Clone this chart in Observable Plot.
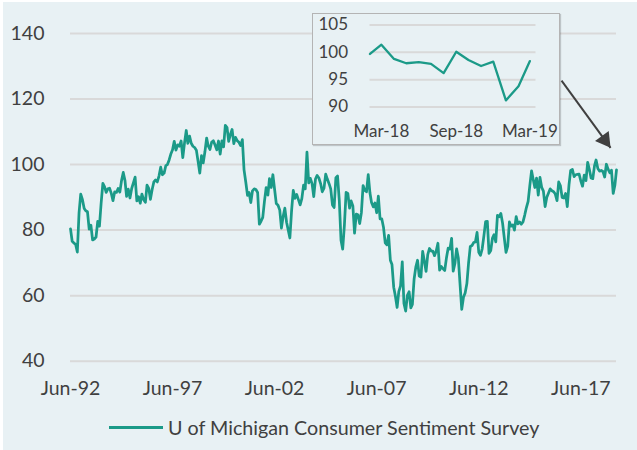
<!DOCTYPE html>
<html><head><meta charset="utf-8">
<script src="https://cdn.jsdelivr.net/npm/d3@7"></script>
<script src="https://cdn.jsdelivr.net/npm/@observablehq/plot@0.6"></script>
<style>
html,body{margin:0;padding:0;background:#fff;overflow:hidden;}
#wrap{position:relative;width:637px;height:450px;overflow:hidden;font-family:Lato,sans-serif;color:#404040;}
#bg{position:absolute;left:3px;top:2px;right:0;bottom:0;background:#e8f1f4;}
#main{position:absolute;left:0;top:0;}
#inset{position:absolute;left:312px;top:13px;}
#inset svg{border:1.5px solid #b4b4b4;box-shadow:1px 1px 1px rgba(0,0,0,0.18);display:block;}
#legend{position:absolute;left:109px;top:414px;height:26px;display:flex;align-items:center;font-size:19.7px;white-space:nowrap;}
#legend .sw{display:inline-block;width:54px;height:3px;background:#1b9a88;margin-right:5px;}
</style>
</head><body>
<div id="wrap"><div id="bg"></div><div id="main"></div><div id="inset"></div>
<div id="legend"><span class="sw"></span><span>U of Michigan Consumer Sentiment Survey</span></div></div>
<script>
// University of Michigan consumer sentiment, monthly from Jun-1992 to Mar-2019
const firstMonth = [1992, 5]; // Jun-1992 (UTC year, month index)
const sentiment1992_1996 = [
  80.4, 76.6, 76.1, 75.6, 73.3, 85.3, 91.0,
  89.3, 86.6, 85.9, 85.6, 80.3, 81.5, 77.0, 77.3, 77.9, 82.7, 81.2, 88.2,
  94.3, 93.2, 91.5, 92.6, 92.8, 91.2, 89.0, 91.7, 91.5, 92.7, 91.6, 95.1,
  97.6, 95.1, 90.3, 92.5, 89.8, 92.7, 94.4, 96.2, 88.9, 90.2, 88.2, 91.0,
  89.3, 88.5, 93.7, 92.7, 89.4, 92.4, 94.7, 95.3, 94.7, 96.5, 99.2, 96.9
];
const sentiment1997_2001 = [
  97.4, 99.7, 100.0, 101.4, 103.2, 104.5, 107.1, 104.4, 106.0, 105.6, 107.2, 102.1,
  106.6, 110.4, 106.5, 108.7, 106.5, 105.6, 105.2, 104.4, 100.9, 97.4, 102.7, 100.5,
  103.9, 108.1, 105.7, 104.6, 106.8, 107.3, 106.0, 104.5, 107.2, 103.2, 107.2, 105.4,
  112.0, 111.3, 107.1, 109.2, 110.7, 106.4, 108.3, 107.3, 106.8, 105.8, 107.6, 98.4,
  94.7, 90.6, 91.5, 88.4, 92.0, 92.6, 92.4, 91.5, 81.8, 82.7, 83.9, 88.8
];
const sentiment2002_2006 = [
  93.0, 90.7, 95.7, 93.0, 96.9, 92.4, 88.1, 87.6, 86.1, 80.6, 84.2, 86.7,
  82.4, 79.9, 77.6, 86.0, 92.1, 89.7, 90.9, 89.3, 87.7, 89.6, 93.7, 92.6,
  103.8, 94.4, 95.8, 94.2, 90.2, 95.6, 96.7, 95.9, 94.2, 91.7, 92.8, 97.1,
  95.5, 94.1, 92.6, 87.7, 86.9, 96.0, 96.5, 89.1, 76.9, 74.2, 81.6, 91.5,
  91.2, 86.7, 88.9, 87.4, 79.1, 84.9, 84.7, 82.0, 85.4, 93.6, 92.1, 91.7
];
const sentiment2007_2011 = [
  96.9, 91.3, 88.4, 87.1, 88.3, 85.3, 90.4, 83.4, 83.4, 80.9, 76.1, 75.5,
  78.4, 70.8, 69.5, 62.6, 59.8, 56.4, 61.2, 63.0, 70.3, 57.6, 55.3, 60.1,
  61.2, 56.3, 57.3, 65.1, 68.7, 70.8, 66.0, 65.7, 73.5, 70.6, 67.4, 72.5,
  74.4, 73.6, 73.6, 72.2, 73.6, 76.0, 67.8, 68.9, 68.2, 67.7, 71.6, 74.5,
  74.2, 77.5, 67.5, 69.8, 74.3, 71.5, 63.7, 55.8, 59.5, 60.8, 63.7, 69.9
];
const sentiment2012_2016 = [
  75.0, 75.3, 76.2, 76.4, 79.3, 73.2, 72.3, 74.3, 78.3, 82.6, 82.7, 72.9,
  73.8, 77.6, 78.6, 76.4, 84.5, 84.1, 85.1, 82.1, 77.5, 73.2, 75.1, 82.5,
  81.2, 81.6, 80.0, 84.1, 81.9, 82.5, 81.8, 82.5, 84.6, 86.9, 88.8, 93.6,
  98.1, 95.4, 93.0, 95.9, 90.7, 96.1, 93.1, 91.9, 87.2, 90.0, 91.3, 92.6,
  92.0, 91.7, 91.0, 89.0, 94.7, 93.5, 90.0, 89.8, 91.2, 87.2, 93.8, 98.2
];
const sentiment2017_2019 = [
  98.5, 96.3, 96.9, 97.0, 97.1, 95.0, 93.4, 96.8, 95.1, 100.7, 98.5, 95.9,
  95.7, 99.7, 101.4, 98.8, 98.0, 98.2, 97.9, 96.2, 100.1, 98.6, 97.5, 98.3,
  91.2, 93.8, 98.4
];
const mainYTicks = [40, 60, 80, 100, 120, 140];
const mainXTickYears = [1992, 1997, 2002, 2007, 2012, 2017]; // June of each
const insetYTicks = [90, 95, 100, 105];
const insetXTickMonths = [[2018, 2], [2018, 8], [2019, 2]]; // Mar-18, Sep-18, Mar-19
const insetStart = [2018, 1]; // Feb-18
// arrow annotation (from inset box toward the latest reading)
const arrowFrom = {date: [2016, 5, 21], value: 125.6};
const arrowTo = {date: [2018, 10, 15], value: 105.1};

const values = [].concat(sentiment1992_1996, sentiment1997_2001, sentiment2002_2006,
  sentiment2007_2011, sentiment2012_2016, sentiment2017_2019);
const start = new Date(Date.UTC(firstMonth[0], firstMonth[1], 1));
const series = values.map((v, i) => ({date: d3.utcMonth.offset(start, i), value: v}));
const lastDate = series[series.length - 1].date;
const insetStartDate = new Date(Date.UTC(insetStart[0], insetStart[1], 1));
const insetSeries = series.filter(d => d.date >= insetStartDate);
const fmt = d3.utcFormat("%b-%y");
const teal = "#1b9a88";
const ink = "#404040";
const arrowData = [{
  x1: new Date(Date.UTC(...arrowFrom.date)), y1: arrowFrom.value,
  x2: new Date(Date.UTC(...arrowTo.date)), y2: arrowTo.value
}];

const main = Plot.plot({
  width: 637, height: 405,
  marginLeft: 70, marginRight: 21, marginTop: 33, marginBottom: 44.3,
  style: {background: "transparent", color: ink, fontFamily: "Lato, sans-serif", fontSize: "19.5px", overflow: "visible"},
  x: {type: "utc", domain: [series[0].date, lastDate], label: null},
  y: {domain: [40, 140], label: null},
  marks: [
    Plot.gridY(mainYTicks, {stroke: "#d9d9d9", strokeOpacity: 1, strokeWidth: 2}),
    Plot.axisY(mainYTicks, {tickSize: 0, tickPadding: 26, fontSize: 19.5, label: null}),
    Plot.axisX(mainXTickYears.map(y => new Date(Date.UTC(y, 5, 1))),
      {tickSize: 0, tickPadding: 20, fontSize: 19.5, tickFormat: fmt, label: null}),
    Plot.line(series, {x: "date", y: "value", stroke: teal, strokeWidth: 2.75}),
    Plot.link(arrowData, {x1: "x1", y1: "y1", x2: "x2", y2: "y2", stroke: ink, strokeWidth: 2}),
    Plot.dot(arrowData, {x: "x2", y: "y2", symbol: "triangle", r: 6.3, fill: ink, stroke: "none",
      rotate: 143.8, dx: -5.8, dy: -7.9})
  ]
});
document.getElementById("main").append(main);

const inset = Plot.plot({
  width: 246, height: 130,
  marginLeft: 56.5, marginRight: 23.5, marginTop: 10.5, marginBottom: 37.5,
  style: {background: "#e8f1f4", color: ink, fontFamily: "Lato, sans-serif", fontSize: "17px", overflow: "visible"},
  x: {type: "utc", domain: [insetStartDate, d3.utcDay.offset(lastDate, 15)], label: null},
  y: {domain: [90, 105], label: null},
  marks: [
    Plot.gridY(insetYTicks, {stroke: "#d9d9d9", strokeOpacity: 1, strokeWidth: 2}),
    Plot.axisY(insetYTicks, {tickSize: 0, tickPadding: 22, fontSize: 17, label: null}),
    Plot.axisX(insetXTickMonths.map(([y, m]) => new Date(Date.UTC(y, m, 1))),
      {tickSize: 0, tickPadding: 18, fontSize: 17, tickFormat: fmt, label: null}),
    Plot.line(insetSeries, {x: "date", y: "value", stroke: teal, strokeWidth: 2.3})
  ]
});
document.getElementById("inset").append(inset);
</script>
</body></html>
